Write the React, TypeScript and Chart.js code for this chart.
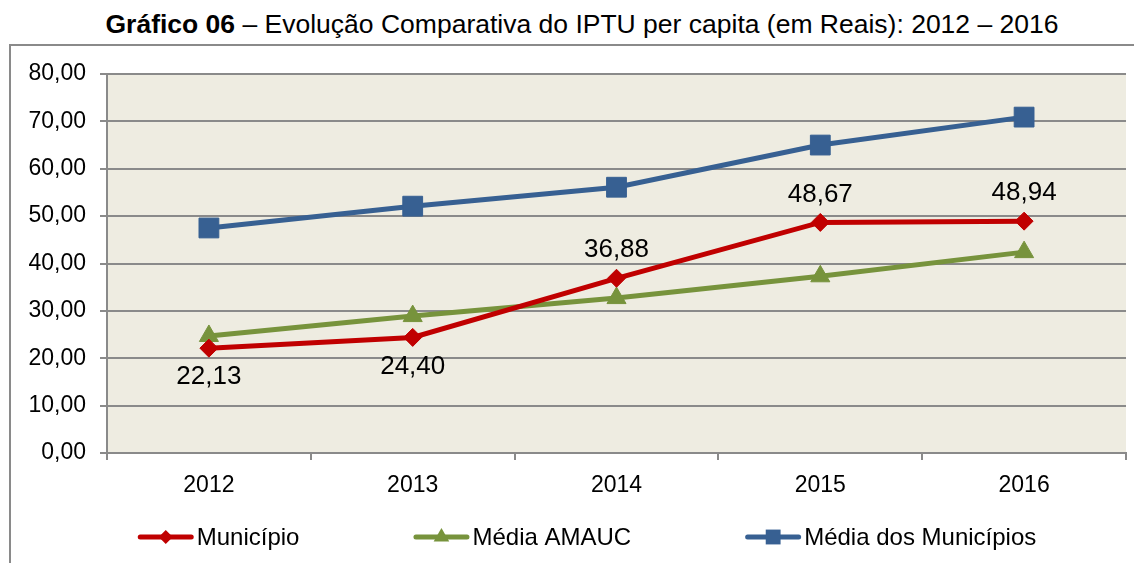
import React, { useEffect, useRef } from "react";
import { Chart, registerables } from "chart.js";

Chart.register(...registerables);

const years = ["2012", "2013", "2014", "2015", "2016"];
const municipio = [22.13, 24.4, 36.88, 48.67, 48.94];
const mediaAmauc = [24.7, 28.9, 32.7, 37.3, 42.4];
const mediaMunicipios = [47.5, 52.1, 56.1, 65.0, 70.9];
const seriesNames = ["Município", "Média AMAUC", "Média dos Municípios"];
const municipioLabelSide = ["below", "below", "above", "above", "above"];
const yMin = 0;
const yMax = 80;
const yStep = 10;

const FONT = '"Liberation Sans", Arial, sans-serif';
const RED = "#C00000";
const GREEN = "#77933C";
const BLUE = "#376092";
const GRID = "#8a8a8a";
const PLOT_BG = "#EEECE1";

const fmt = (v: number) => v.toFixed(2).replace(".", ",");

function drawMarker(ctx: CanvasRenderingContext2D, style: string, x: number, y: number, r: number) {
  ctx.beginPath();
  if (style === "rectRot") {
    ctx.moveTo(x - r, y);
    ctx.lineTo(x, y - r);
    ctx.lineTo(x + r, y);
    ctx.lineTo(x, y + r);
  } else if (style === "triangle") {
    for (let k = 0; k < 3; k++) {
      const a = (k * 2 * Math.PI) / 3;
      const px = x + Math.sin(a) * r;
      const py = y - Math.cos(a) * r;
      if (k === 0) ctx.moveTo(px, py);
      else ctx.lineTo(px, py);
    }
  } else {
    const s = r * Math.SQRT1_2;
    ctx.rect(x - s, y - s, 2 * s, 2 * s);
  }
  ctx.closePath();
  ctx.fill();
}

const bgPlugin = {
  id: "plotBg",
  beforeDraw(chart: any) {
    const { ctx, chartArea } = chart;
    ctx.save();
    ctx.fillStyle = PLOT_BG;
    ctx.fillRect(chartArea.left, chartArea.top, chartArea.right - chartArea.left, chartArea.bottom - chartArea.top);
    ctx.restore();
  },
};

const dataLabelPlugin = {
  id: "dataLabels",
  afterDatasetsDraw(chart: any) {
    const { ctx } = chart;
    const meta = chart.getDatasetMeta(0);
    const ds = chart.data.datasets[0];
    ctx.save();
    ctx.font = `26px ${FONT}`;
    ctx.fillStyle = "#000";
    ctx.textAlign = "center";
    ctx.textBaseline = "middle";
    meta.data.forEach((pt: any, i: number) => {
      const off = municipioLabelSide[i] === "below" ? 29 : -28;
      ctx.fillText(fmt(ds.data[i]), pt.x, pt.y + off);
    });
    ctx.restore();
  },
};

const legendPlugin = {
  id: "customLegend",
  afterDraw(chart: any) {
    const { ctx } = chart;
    const datasets = chart.data.datasets;
    ctx.save();
    ctx.font = `24px ${FONT}`;
    const lineLen = 56;
    const gap = 3;
    const spacing = 114;
    const widths = datasets.map((d: any) => lineLen + gap + ctx.measureText(d.label).width);
    const total = widths.reduce((a: number, b: number) => a + b, 0) + spacing * (datasets.length - 1);
    let x = 576 - total / 2;
    const y = 491;
    const legendRadius: Record<string, number> = { rectRot: 7, triangle: 9, rect: 10.5 };
    datasets.forEach((d: any, i: number) => {
      ctx.strokeStyle = d.borderColor;
      ctx.lineWidth = 5;
      ctx.lineCap = "round";
      ctx.beginPath();
      ctx.moveTo(x + 2.5, y);
      ctx.lineTo(x + lineLen - 2.5, y);
      ctx.stroke();
      ctx.fillStyle = d.borderColor;
      drawMarker(ctx, d.pointStyle, x + lineLen / 2, y, legendRadius[d.pointStyle] || 8);
      ctx.fillStyle = "#000";
      ctx.textAlign = "left";
      ctx.textBaseline = "middle";
      ctx.fillText(d.label, x + lineLen + gap, y + 1);
      x += widths[i] + spacing;
    });
    ctx.restore();
  },
};

export default function App() {
  const ref = useRef<HTMLCanvasElement | null>(null);

  useEffect(() => {
    if (!ref.current) return;
    const chart = new Chart(ref.current, {
      type: "line",
      data: {
        labels: years,
        datasets: [
          {
            label: seriesNames[0],
            data: municipio,
            borderColor: RED,
            backgroundColor: RED,
            pointBackgroundColor: RED,
            pointBorderColor: RED,
            pointStyle: "rectRot",
            pointRadius: 9,
            pointBorderWidth: 1,
            borderWidth: 5,
            tension: 0,
          },
          {
            label: seriesNames[1],
            data: mediaAmauc,
            borderColor: GREEN,
            backgroundColor: GREEN,
            pointBackgroundColor: GREEN,
            pointBorderColor: GREEN,
            pointStyle: "triangle",
            pointRadius: 11,
            pointBorderWidth: 1,
            borderWidth: 5,
            tension: 0,
          },
          {
            label: seriesNames[2],
            data: mediaMunicipios,
            borderColor: BLUE,
            backgroundColor: BLUE,
            pointBackgroundColor: BLUE,
            pointBorderColor: BLUE,
            pointStyle: "rect",
            pointRadius: 14,
            pointBorderWidth: 1,
            borderWidth: 5,
            tension: 0,
          },
        ],
      },
      options: {
        animation: false,
        responsive: false,
        maintainAspectRatio: false,
        layout: { padding: { top: 28, right: 16, left: 0, bottom: 70 } },
        plugins: {
          legend: { display: false },
          tooltip: { enabled: false },
          title: { display: false },
        },
        scales: {
          x: {
            offset: true,
            grid: {
              offset: true,
              drawOnChartArea: false,
              drawTicks: true,
              tickLength: 7,
              color: GRID,
              lineWidth: 2,
            },
            border: { color: GRID, width: 2 },
            ticks: { color: "#000", font: { family: FONT, size: 23 }, padding: 12 },
            afterFit: (s: any) => {
              s.height = 40;
            },
          },
          y: {
            min: yMin,
            max: yMax,
            ticks: {
              stepSize: yStep,
              color: "#000",
              font: { family: FONT, size: 23 },
              padding: 14,
              callback: (v: any) => fmt(Number(v)),
            },
            grid: { color: GRID, lineWidth: 2, tickLength: 7 },
            border: { color: GRID, width: 2 },
            afterFit: (s: any) => {
              s.width = 96;
            },
          },
        },
      },
      plugins: [bgPlugin, dataLabelPlugin, legendPlugin],
    });
    return () => chart.destroy();
  }, []);

  return (
    <div
      style={{
        position: "relative",
        width: 1134,
        height: 555,
        overflow: "hidden",
        fontFamily: FONT,
        color: "#000",
      }}
    >
      <style>{`html,body{overflow:hidden}`}</style>
      <div
        style={{
          position: "absolute",
          left: 7,
          top: 3,
          width: 1134,
          textAlign: "center",
          fontSize: 26.5,
          lineHeight: "26px",
          whiteSpace: "nowrap",
        }}
      >
        <b>Gráfico 06</b> – Evolução Comparativa do IPTU per capita (em Reais): 2012 – 2016
      </div>
      <div
        style={{
          position: "absolute",
          left: 1,
          top: 36,
          width: 1140,
          height: 530,
          borderLeft: `2px solid ${GRID}`,
          borderTop: `2px solid ${GRID}`,
          background: "#fff",
        }}
      >
        <canvas ref={ref} width={1131} height={517} style={{ display: "block" }} />
      </div>
    </div>
  );
}
